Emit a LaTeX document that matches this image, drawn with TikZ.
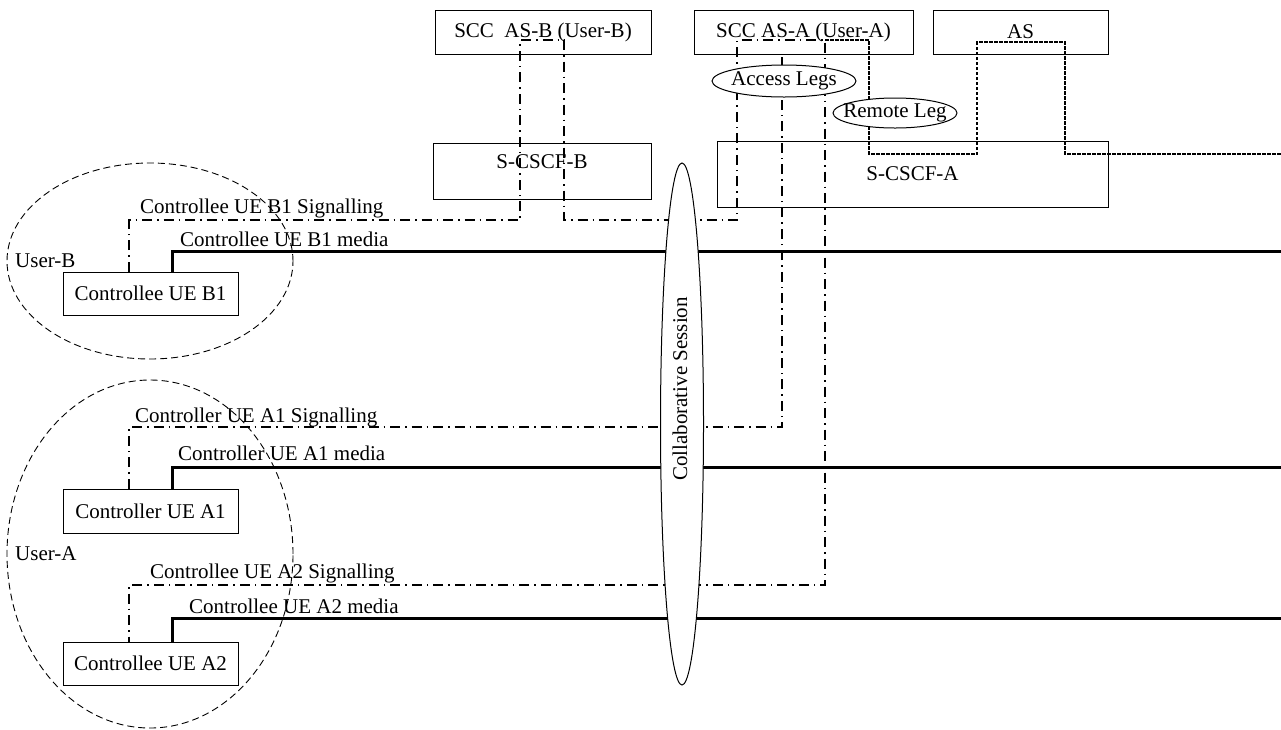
\documentclass[tikz,border=0pt]{standalone}
\usepackage{fontspec}
\setmainfont{Liberation Serif}
\usetikzlibrary{shapes.geometric}
\begin{document}
\begin{tikzpicture}[x=1pt,y=-1pt,
	every node/.style={font=\fontsize{21}{25}\selectfont},
	box/.style={draw,line width=1pt,inner sep=0pt},
	grp/.style={draw,ellipse,dash pattern=on 7pt off 4pt,line width=0.9pt,inner sep=0pt},
	oval/.style={draw,ellipse,fill=white,line width=1pt,inner sep=0pt},
	txt/.style={anchor=base west,inner sep=0pt},
	sig/.style={line width=1.3pt,dash pattern=on 10pt off 5pt on 1.5pt off 5pt},
	remote/.style={line width=1.6pt,dash pattern=on 3.5pt off 1.5pt},
	media/.style={line width=3pt}]
	\useasboundingbox (0,0) rectangle (1281,729);
	% users
	\node[grp,minimum width=286,minimum height=196] (userB) at (150,261) {};
	\node[anchor=west,inner sep=0pt] (userBlbl) at (15,261) {User-B};
	\node[grp,minimum width=286,minimum height=348] (userA) at (150,554) {};
	\node[anchor=west,inner sep=0pt] (userAlbl) at (15,554) {User-A};
	% boxes
	\node[box,minimum width=216,minimum height=44] (sccB) at (543,32) {SCC\ \ AS-B (User-B)};
	\node[box,minimum width=219,minimum height=44] (sccA) at (803.5,32) {SCC AS-A (User-A)};
	\node[box,minimum width=175,minimum height=44] (as) at (1020.5,32) {AS};
	\node[box,minimum width=218,minimum height=56] (cscfB) at (542,171) {};
	\node (cscfBlbl) at ([yshift=9.5pt]cscfB.center) {S-CSCF-B};
	\node[box,minimum width=391,minimum height=66] (cscfA) at (912.5,174) {S-CSCF-A};
	\node[box,minimum width=175,minimum height=43] (ueB1) at (150.5,293.5) {Controllee UE B1};
	\node[box,minimum width=175,minimum height=44] (ueA1) at (150.5,511) {Controller UE A1};
	\node[box,minimum width=175,minimum height=43] (ueA2) at (150.5,663.5) {Controllee UE A2};
	% line labels
	\node[txt] (sigB1lbl) at (140,213) {Controllee UE B1 Signalling};
	\node[txt] (medB1lbl) at (180,246) {Controllee UE B1 media};
	\node[txt] (sigA1lbl) at (135,422) {Controller UE A1 Signalling};
	\node[txt] (medA1lbl) at (178,460) {Controller UE A1 media};
	\node[txt] (sigA2lbl) at (150,578) {Controllee UE A2 Signalling};
	\node[txt] (medA2lbl) at (189,613) {Controllee UE A2 media};
	% free ends
	\coordinate (jA) at (825,40);
	\coordinate (accA1) at (782,427);
	\coordinate (rEnd) at (1281,154);
	\coordinate (mB1) at (1281,251);
	\coordinate (mA1) at (1281,467);
	\coordinate (mA2) at (1281,618);
	% signalling
	\draw[sig] ([xshift=-21.5pt]ueB1.north) |- (520,220) -- (520,40) -| (564,220) -| (737,40) -- (jA)
		-- (825,585) -| ([xshift=-21.5pt]ueA2.north);
	\draw[sig] ([xshift=-21.5pt]ueA1.north) |- (accA1) -- (accA1 |- sccA.south);
	\draw[remote] (jA) -| (869,154) -| (977,42) -| (1065,154) -- (rEnd);
	% media
	\draw[media] ([xshift=21.5pt]ueB1.north) |- (mB1);
	\draw[media] ([xshift=21.5pt]ueA1.north) |- (mA1);
	\draw[media] ([xshift=21.5pt]ueA2.north) |- (mA2);
	% legs and session
	\node[oval,minimum width=43,minimum height=522] (collab) at (682,424) {};
	\node[rotate=90] (collablbl) at (680,389) {Collaborative Session};
	\node[oval,minimum width=144,minimum height=32] (access) at (784,81) {};
	\node (accesslbl) at (access.center) {Access Legs};
	\node[oval,minimum width=124,minimum height=30] (remoteleg) at (895,113) {};
	\node (remotelbl) at (remoteleg.center) {Remote Leg};
\end{tikzpicture}
\end{document}
